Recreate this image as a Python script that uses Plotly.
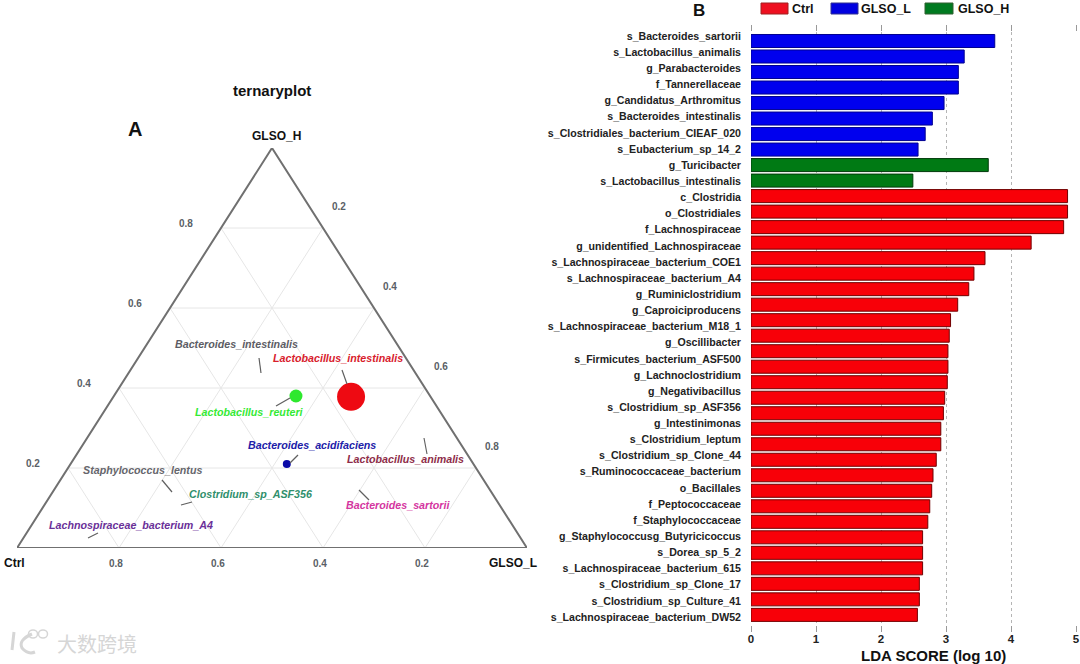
import numpy as np
import plotly.graph_objects as go

W, H = 1080, 664
SANS = "Liberation Sans, Arial, sans-serif"

# ---------- data: ternary panel ----------
point_names = ["Lactobacillus_intestinalis", "Lactobacillus_reuteri", "Bacteroides_acidifaciens"]
point_glso_h = [0.378, 0.380, 0.210]
point_glso_l = [0.466, 0.357, 0.424]
point_ctrl = [0.156, 0.263, 0.366]
point_sizes = [28, 13, 8]
point_colors = ["#ee0a12", "#2ee82e", "#0a0aa8"]
ternary_ticks = [0.2, 0.4, 0.6, 0.8]

taxon_labels = ["Bacteroides_intestinalis", "Lactobacillus_intestinalis", "Lactobacillus_reuteri",
                "Bacteroides_acidifaciens", "Lactobacillus_animalis", "Bacteroides_sartorii",
                "Staphylococcus_lentus", "Clostridium_sp_ASF356", "Lachnospiraceae_bacterium_A4"]
taxon_colors = ["#5c5c64", "#d8202c", "#35ea35", "#2020a8", "#8e2c48", "#d435a0", "#66666c", "#2f8f6c", "#6a3098"]

# ---------- data: LDA panel ----------
bar_labels = ["s_Bacteroides_sartorii", "s_Lactobacillus_animalis", "g_Parabacteroides", "f_Tannerellaceae",
              "g_Candidatus_Arthromitus", "s_Bacteroides_intestinalis", "s_Clostridiales_bacterium_CIEAF_020",
              "s_Eubacterium_sp_14_2", "g_Turicibacter", "s_Lactobacillus_intestinalis", "c_Clostridia",
              "o_Clostridiales", "f_Lachnospiraceae", "g_unidentified_Lachnospiraceae",
              "s_Lachnospiraceae_bacterium_COE1", "s_Lachnospiraceae_bacterium_A4", "g_Ruminiclostridium",
              "g_Caproiciproducens", "s_Lachnospiraceae_bacterium_M18_1", "g_Oscillibacter",
              "s_Firmicutes_bacterium_ASF500", "g_Lachnoclostridium", "g_Negativibacillus",
              "s_Clostridium_sp_ASF356", "g_Intestinimonas", "s_Clostridium_leptum", "s_Clostridium_sp_Clone_44",
              "s_Ruminococcaceae_bacterium", "o_Bacillales", "f_Peptococcaceae", "f_Staphylococcaceae",
              "g_Staphylococcusg_Butyricicoccus", "s_Dorea_sp_5_2", "s_Lachnospiraceae_bacterium_615",
              "s_Clostridium_sp_Clone_17", "s_Clostridium_sp_Culture_41", "s_Lachnospiraceae_bacterium_DW52"]
glso_l_scores = [3.75, 3.28, 3.19, 3.19, 2.97, 2.79, 2.68, 2.57]
glso_h_scores = [3.65, 2.49]
ctrl_scores = [4.87, 4.87, 4.81, 4.31, 3.60, 3.43, 3.35, 3.18, 3.07, 3.05, 3.03, 3.03, 3.02, 2.98, 2.96,
               2.92, 2.92, 2.85, 2.80, 2.78, 2.75, 2.72, 2.64, 2.64, 2.64, 2.59, 2.59, 2.56]
lda_ticks = [0, 1, 2, 3, 4, 5]

# ---------- layout constants (pixels of the page) ----------
TRI_L, TRI_R, TRI_T, TRI_B = 17, 527, 148, 548
LDA_L, LDA_R, LDA_T, LDA_B = 751, 1076, 32, 625
BAR_Y0, BAR_STEP = 41.0, 15.51
LAB_Y0, LAB_STEP = 36.0, 16.14

label_centers = [(236, 344), (338, 358), (249, 412), (312, 445), (405, 459),
                 (398, 505), (142, 470), (250, 494), (131, 525)]
leaders = [((259, 358), (261, 373)), ((342, 370), (347, 384)), ((276, 406), (290, 398)),
           ((298, 455), (290, 463)), ((424, 438), (427, 454)), ((359, 490), (369, 500)),
           ((162, 480), (172, 492)), ((181, 505), (192, 502)), ((88, 538), (98, 533))]


def px(x):
    return x / W


def py(y):
    return 1 - y / H


def tern_xy(h, l):
    """Cartesian position in the unit triangle from GLSO_H and GLSO_L shares."""
    return np.asarray(l) + np.asarray(h) / 2, np.asarray(h)


fig = go.Figure()

# grid of the ternary panel
gx, gy = [], []
for t in ternary_ticks:
    for (h0, l0), (h1, l1) in [((t, 0), (t, 1 - t)), ((0, t), (1 - t, t)), ((0, 1 - t), (1 - t, 0))]:
        a = tern_xy(h0, l0)
        b = tern_xy(h1, l1)
        gx += [float(a[0]), float(b[0]), None]
        gy += [float(a[1]), float(b[1]), None]
fig.add_trace(go.Scatter(x=gx, y=gy, mode="lines", xaxis="x", yaxis="y", hoverinfo="skip", showlegend=False,
                         line=dict(color="#e6e6e6", width=1)))
# triangle outline
ox, oy = tern_xy([0, 0, 1, 0], [0, 1, 0, 0])
fig.add_trace(go.Scatter(x=ox, y=oy, mode="lines", xaxis="x", yaxis="y", hoverinfo="skip", showlegend=False,
                         cliponaxis=False, line=dict(color="#707070", width=2)))
# bubbles
bx, by = tern_xy(point_glso_h, point_glso_l)
fig.add_trace(go.Scatter(x=bx, y=by, mode="markers", xaxis="x", yaxis="y", text=point_names, showlegend=False,
                         customdata=point_ctrl,
                         marker=dict(size=point_sizes, color=point_colors, opacity=1, line=dict(width=0))))

# LDA bars
for vals, start, color, edge, name in [
    (glso_l_scores, 0, "#0000ee", "#000090", "GLSO_L"),
    (glso_h_scores, len(glso_l_scores), "#007a14", "#003a0a", "GLSO_H"),
    (ctrl_scores, len(glso_l_scores) + len(glso_h_scores), "#f80008", "#700000", "Ctrl"),
]:
    fig.add_trace(go.Bar(x=vals, y=np.arange(start, start + len(vals)), orientation="h", name=name,
                         xaxis="x2", yaxis="y2", width=0.84, showlegend=False,
                         marker=dict(color=color, line=dict(color=edge, width=1))))

anns = []


def text(x, y, s, size, color="#111111", bold=True, italic=False, family=SANS, anchor="center"):
    if bold:
        s = f"<b>{s}</b>"
    if italic:
        s = f"<i>{s}</i>"
    anns.append(dict(x=px(x), y=py(y), xref="paper", yref="paper", text=s, showarrow=False, xanchor=anchor,
                     yanchor="middle", font=dict(size=size, color=color, family=family)))


text(272, 90, "ternaryplot", 15)
text(135, 129, "A", 20)
text(276, 136, "GLSO_H", 12)
text(14, 563, "Ctrl", 12)
text(513, 563, "GLSO_L", 12)
text(699, 11, "B", 17)

# ternary tick labels, placed from the axis scale with a pixel offset
for t in ternary_ticks:
    xh, yh = tern_xy(t, 0)
    xl, yl = tern_xy(1 - t, t)
    xc, yc = tern_xy(0, 1 - t)
    tick = f"<b>{t:.1f}</b>"
    for x0, y0, dx, dy in [(xh, yh, -35, 5), (xl, yl, 16, 22), (xc, yc, -3, -15)]:
        anns.append(dict(x=float(x0), y=float(y0), xref="x", yref="y", text=tick, showarrow=False, xshift=dx,
                         yshift=dy, font=dict(size=10, color="#5a5f66", family=SANS)))

for name, color, (cx, cy) in zip(taxon_labels, taxon_colors, label_centers):
    text(cx, cy, name, 10.7, color=color, italic=True)

shapes = []
for (a, b) in leaders:
    shapes.append(dict(type="line", xref="paper", yref="paper", x0=px(a[0]), y0=py(a[1]), x1=px(b[0]), y1=py(b[1]),
                       line=dict(color="#606060", width=1.2)))

# legend of panel B
for x0, x1, fill, edge, name, tx in [(761, 788, "#ee1020", "#a02020", "Ctrl", 790),
                                     (831, 858, "#0000e0", "#303090", "GLSO_L", 859),
                                     (925, 953, "#007a20", "#306030", "GLSO_H", 956)]:
    shapes.append(dict(type="rect", xref="paper", yref="paper", x0=px(x0), x1=px(x1), y0=py(14), y1=py(3),
                       fillcolor=fill, line=dict(color=edge, width=1)))
    text(tx, 9, name, 12.5, anchor="left")

text(933, 655, "LDA SCORE (log 10)", 15)

# watermark
text(97, 643, "大数跨境", 20, color="#d6d6d6", bold=False, family="Noto Sans CJK SC")
shapes.append(dict(type="path", xref="paper", yref="paper",
                   path=f"M {px(14)} {py(632)} L {px(12)} {py(650)} M {px(32)} {py(634)} "
                        f"Q {px(18)} {py(640)} {px(22)} {py(648)} Q {px(28)} {py(655)} {px(35)} {py(652)}",
                   line=dict(color="#d6d6d6", width=3)))
for cx, cy in [(33, 634), (43, 634)]:
    shapes.append(dict(type="circle", xref="paper", yref="paper", x0=px(cx - 4.5), x1=px(cx + 4.5),
                       y0=py(cy + 4), y1=py(cy - 4), line=dict(color="#d6d6d6", width=1.5)))

hidden = dict(visible=False, fixedrange=True, automargin=False)
label_pos = [(LAB_Y0 + LAB_STEP * j - BAR_Y0) / BAR_STEP for j in range(len(bar_labels))]

fig.update_layout(
    width=W, height=H, margin=dict(l=0, r=0, t=0, b=0, pad=0), paper_bgcolor="white", plot_bgcolor="white",
    autosize=False, showlegend=False, bargap=0.1, annotations=anns, shapes=shapes,
    font=dict(family=SANS),
    xaxis=dict(domain=[px(TRI_L), px(TRI_R)], range=[0, 1], anchor="y", **hidden),
    yaxis=dict(domain=[py(TRI_B), py(TRI_T)], range=[0, 1], anchor="x", **hidden),
    xaxis2=dict(domain=[px(LDA_L), px(LDA_R)], range=[0, 5], anchor="y2", tickmode="array", tickvals=lda_ticks,
                ticktext=[f"<b>{v}</b>" for v in lda_ticks], automargin=False, ticklabelstandoff=-3,
                ticks="outside", ticklen=6, tickcolor="#999999", tickwidth=1, mirror="ticks", showline=False,
                zeroline=False, showgrid=True, griddash="dot", gridcolor="#b5b5b5", gridwidth=1,
                tickfont=dict(size=11.5, color="#222222", family=SANS)),
    yaxis2=dict(domain=[py(LDA_B), py(LDA_T)], automargin=False,
                range=[(LDA_B - BAR_Y0) / BAR_STEP, (LDA_T - BAR_Y0) / BAR_STEP], anchor="x2",
                tickmode="array", tickvals=label_pos, ticktext=[f"<b>{s}</b>" for s in bar_labels],
                ticks="", showline=False, showgrid=False, zeroline=False, ticklabelstandoff=9,
                tickfont=dict(size=10.6, color="#222222", family=SANS)),
)

fig.write_html("out.html", config=dict(displayModeBar=False),
               post_script="document.body.style.margin='0';document.documentElement.style.overflow='hidden';")
